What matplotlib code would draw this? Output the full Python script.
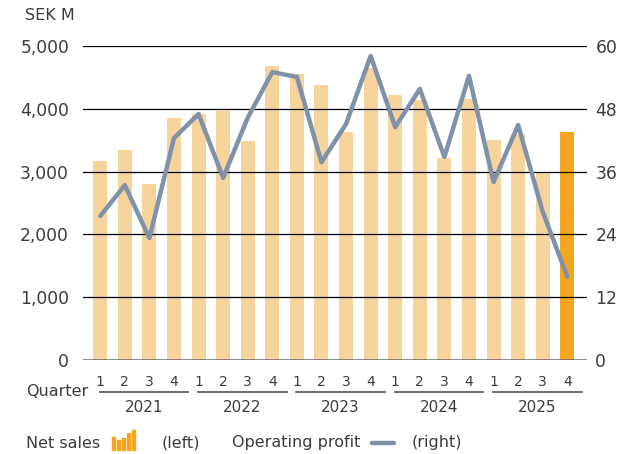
import numpy as np
import matplotlib.pyplot as plt
import matplotlib.transforms as mtransforms
from matplotlib.patches import Rectangle
from matplotlib.lines import Line2D

plt.rcParams['font.family'] = ['DejaVu Sans']

years = ['2021', '2022', '2023', '2024', '2025']
quarters = ['1', '2', '3', '4'] * 5
net_sales = [3170, 3350, 2800, 3850,
             3920, 3970, 3490, 4680,
             4550, 4380, 3630, 4650,
             4220, 4140, 3220, 4160,
             3500, 3600, 2980, 3630]
op_profit = [27.5, 33.4, 23.3, 42.4,
             47.0, 34.8, 46.3, 55.0,
             54.1, 37.8, 45.1, 58.1,
             44.5, 51.8, 38.8, 54.3,
             34.0, 44.9, 28.3, 15.9]
left_ticks = [0, 1000, 2000, 3000, 4000, 5000]
right_ticks = [0, 12, 24, 36, 48, 60]

bar_col = '#F7D49C'
last_col = '#F6A51E'
line_col = '#8091AA'
txt_col = '#3c3c3c'

fig = plt.figure(figsize=(6.35, 4.54), dpi=100)
ax = fig.add_axes([83/635, 1-360/454, 504/635, 314/454])
ax2 = ax.twinx()

x = np.arange(len(net_sales))
colors = [bar_col] * (len(x) - 1) + [last_col]
ax.bar(x, net_sales, width=0.57, color=colors, zorder=1)
for t in left_ticks[1:]:
    ax.axhline(t, color='black', lw=0.9, zorder=2)
ax.axhline(0, color='#666666', lw=1.8, zorder=3)

ax2.plot(x, op_profit, color=line_col, lw=3.2, solid_joinstyle='round', solid_capstyle='round')

ax.set_xlim(-0.7, 19.8)
ax.set_ylim(0, 5000)
ax2.set_ylim(0, 60)
ax.set_yticks(left_ticks, [f'{t:,}' for t in left_ticks])
ax2.set_yticks(right_ticks, [str(t) for t in right_ticks])
ax.set_xticks(x, quarters)
for a in (ax, ax2):
    for s in a.spines.values():
        s.set_visible(False)
ax.tick_params(axis='y', length=0, pad=10, labelsize=12.3, labelcolor=txt_col)
ax2.tick_params(axis='y', length=0, pad=6, labelsize=12.3, labelcolor=txt_col)
ax.tick_params(axis='x', length=0, pad=11, labelsize=10, labelcolor=txt_col)

fig.text(25/635, 1-16/454, 'SEK M', fontsize=11.5, color=txt_col, va='center', ha='left')

# year groups under quarter labels
trans = mtransforms.blended_transform_factory(ax.transData, fig.transFigure)
for i, yr in enumerate(years):
    x0 = 4 * i - 0.02
    x1 = 4 * i + 3.58
    ax.add_line(Line2D([x0, x1], [1-392/454, 1-392/454], transform=trans,
                       color='#555555', lw=1.2, clip_on=False))
    ax.text((x0 + x1) / 2, 1-408/454, yr, transform=trans, ha='center', va='center',
            fontsize=11, color=txt_col)
fig.text(88/635, 1-392/454, 'Quarter', fontsize=11.5, color=txt_col, ha='right', va='center')

# legend row
ly = 1-443/454
fig.text(26/635, ly, 'Net sales', fontsize=11.5, color=txt_col, va='center')
icon_h = [13, 10, 12, 17, 20]
for k, h in enumerate(icon_h):
    fig.add_artist(Rectangle(((112 + k*5)/635, 1-450/454), 3/635, h/454,
                             transform=fig.transFigure, color=last_col))
fig.text(162/635, ly, '(left)', fontsize=11.5, color=txt_col, va='center')
fig.text(232/635, ly, 'Operating profit', fontsize=11.5, color=txt_col, va='center')
fig.add_artist(Line2D([372/635, 394/635], [ly, ly], transform=fig.transFigure,
                      color=line_col, lw=3.2, solid_capstyle='round'))
fig.text(412/635, ly, '(right)', fontsize=11.5, color=txt_col, va='center')

fig.savefig('out.png', dpi=100)
